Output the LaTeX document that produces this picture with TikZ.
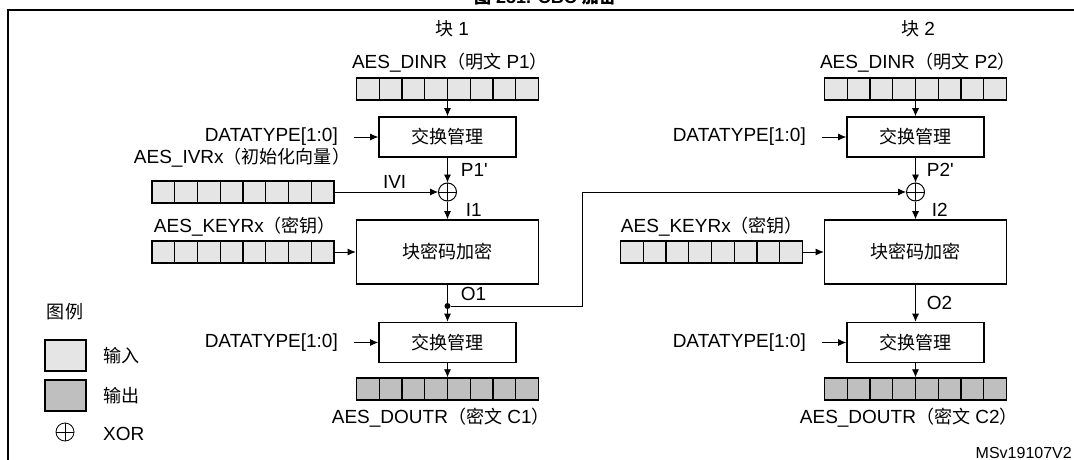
\documentclass[tikz,border=0pt]{standalone}
\usepackage{fontspec}
\setmainfont{Liberation Sans}
\newfontfamily\cjk[Scale=0.95]{Noto Sans CJK SC}
\newcommand{\zh}[1]{{\cjk #1}}
\usetikzlibrary{
    arrows.meta,
    positioning,
    calc
}
\definecolor{inclr}{gray}{0.90}
\definecolor{outclr}{gray}{0.75}

\begin{document}
\begin{tikzpicture}[
    x=1pt, y=-1pt,
    font=\fontsize{19}{22}\selectfont,
    reg/.style={
        rectangle,
        draw,
        line width=1.4pt,
        minimum width=182pt,
        minimum height=22pt,
        inner sep=0pt,
        path picture={
            \foreach \k in {1,...,7}{
                \draw[line width=1.4pt]
                    ($(path picture bounding box.north west)!\k/8!(path picture bounding box.north east)$) --
                    ($(path picture bounding box.south west)!\k/8!(path picture bounding box.south east)$);
            }
        }
    },
    box/.style={
        rectangle,
        draw,
        line width=1.6pt,
        minimum width=137pt,
        minimum height=40pt,
        align=center
    },
    enc/.style={
        box,
        minimum width=182pt,
        minimum height=64pt
    },
    lab/.style={inner sep=2pt},
    dtype/.style={lab, anchor=east, inner xsep=16pt},
    xor/.style={
        circle,
        draw,
        line width=1pt,
        minimum size=18pt,
        inner sep=0pt,
        path picture={
            \draw[line width=1pt]
                (path picture bounding box.north) -- (path picture bounding box.south)
                (path picture bounding box.west) -- (path picture bounding box.east);
        }
    },
    dot/.style={circle, fill, inner sep=0pt, minimum size=6pt},
    arr/.style={-{Latex[length=8pt,width=7pt]}, line width=0.8pt},
    line/.style={line width=0.8pt}
]

\path[use as bounding box] (0,0) rectangle (1074,460);
\clip (0,0) rectangle (1074,460);

% 标题和外框
\node[font=\bfseries\fontsize{18}{21}\selectfont, anchor=base] (title) at (545,4) {\zh{图} 251. CBC \zh{加密}};
\draw[line width=2.6pt] (8,480) -- (8,10) -- (1090,10);

% 块 1
\node[lab] (blkA) at (452,29) {\zh{块} 1};
\node[lab, anchor=east, inner sep=0pt] (lblDinA) at (548,63) {AES\_DINR\zh{（明文} P1\zh{）}};
\node[reg, fill=inclr] (dinA) at (447.5,89) {};
\node[box] (swapA) at (447.5,137) {\zh{交换管理}};
\node[dtype] (dtA) at (354,137) {DATATYPE[1:0]};
\node[xor] (xorA) at (447.5,192) {};
\node[lab] (lblIvA) at (242,158) {AES\_IVRx\zh{（初始化向量）}};
\node[reg, fill=inclr] (ivA) at (243,192) {};
\node[lab] (lblKeyA) at (245,227) {AES\_KEYRx\zh{（密钥）}};
\node[reg, fill=inclr] (keyA) at (243,252) {};
\node[enc] (encA) at (447.5,252) {\zh{块密码加密}};
\node[dot] (dotA) at (447.5,306) {};
\coordinate (fbA) at (582,306);
\node[box] (swapA2) at (447.5,342.5) {\zh{交换管理}};
\node[dtype] (dtA2) at (354,342.5) {DATATYPE[1:0]};
\node[reg, fill=outclr] (doutA) at (447.5,389) {};
\node[lab, anchor=east, inner sep=0pt] (lblDoutA) at (550,418) {AES\_DOUTR\zh{（密文} C1\zh{）}};

% 块 2
\node[lab] (blkB) at (918,29) {\zh{块} 2};
\node[lab, anchor=east, inner sep=0pt] (lblDinB) at (1016,63) {AES\_DINR\zh{（明文} P2\zh{）}};
\node[reg, fill=inclr] (dinB) at (915.5,89) {};
\node[box] (swapB) at (915.5,137) {\zh{交换管理}};
\node[dtype] (dtB) at (822,137) {DATATYPE[1:0]};
\node[xor] (xorB) at (915.5,192) {};
\node[lab] (lblKeyB) at (712,227) {AES\_KEYRx\zh{（密钥）}};
\node[reg, fill=inclr] (keyB) at (711.5,252) {};
\node[enc] (encB) at (915.5,252) {\zh{块密码加密}};
\node[box] (swapB2) at (915.5,342.5) {\zh{交换管理}};
\node[dtype] (dtB2) at (822,342.5) {DATATYPE[1:0]};
\node[reg, fill=outclr] (doutB) at (915.5,389) {};
\node[lab, anchor=east, inner sep=0pt] (lblDoutB) at (1018,418) {AES\_DOUTR\zh{（密文} C2\zh{）}};

% 连线 块 1
\draw[arr] (dinA) -- (swapA);
\draw[arr] (dtA) -- (swapA);
\draw[arr] (swapA) -- node[lab, right, xshift=11pt] (lblP1) {P1\textquotesingle} (xorA);
\draw[arr] (ivA) -- node[lab, above, pos=0.58, inner sep=3pt] (lblIvi) {IVI} (xorA);
\draw[arr] (xorA) -- node[lab, right, xshift=16pt] (lblI1) {I1} (encA);
\draw[arr] (keyA) -- (encA);
\draw[line] (encA) -- node[lab, right, xshift=11pt] (lblO1) {O1} (dotA);
\draw[arr] (dotA) -- (swapA2);
\draw[arr] (dtA2) -- (swapA2);
\draw[arr] (swapA2) -- (doutA);

% 反馈到块 2
\draw[arr] (dotA) -- (fbA) |- (xorB);

% 连线 块 2
\draw[arr] (dinB) -- (swapB);
\draw[arr] (dtB) -- (swapB);
\draw[arr] (swapB) -- node[lab, right, xshift=9pt] (lblP2) {P2\textquotesingle} (xorB);
\draw[arr] (xorB) -- node[lab, right, xshift=14pt] (lblI2) {I2} (encB);
\draw[arr] (keyB) -- (encB);
\draw[arr] (encB) -- node[lab, right, xshift=9pt] (lblO2) {O2} (swapB2);
\draw[arr] (dtB2) -- (swapB2);
\draw[arr] (swapB2) -- (doutB);

% 图例
\node[lab] (lgTitle) at (65,312) {\zh{图例}};
\node[draw, fill=inclr, line width=1.2pt, minimum width=41pt, minimum height=31pt] (lgIn) at (65.5,355.5) {};
\node[lab, right=15pt of lgIn] (lgInTxt) {\zh{输入}};
\node[draw, fill=outclr, line width=1.2pt, minimum width=41pt, minimum height=31pt] (lgOut) at (65.5,395.5) {};
\node[lab, right=15pt of lgOut] (lgOutTxt) {\zh{输出}};
\node[xor, line width=0.8pt] (lgXor) at (65,432) {};
\node[lab, anchor=west] (lgXorTxt) at (101,434) {XOR};

\node[lab, anchor=base east, font=\fontsize{16}{19}\selectfont, inner sep=1pt] (figId) at (1073,458) {MSv19107V2};

\end{tikzpicture}
\end{document}
